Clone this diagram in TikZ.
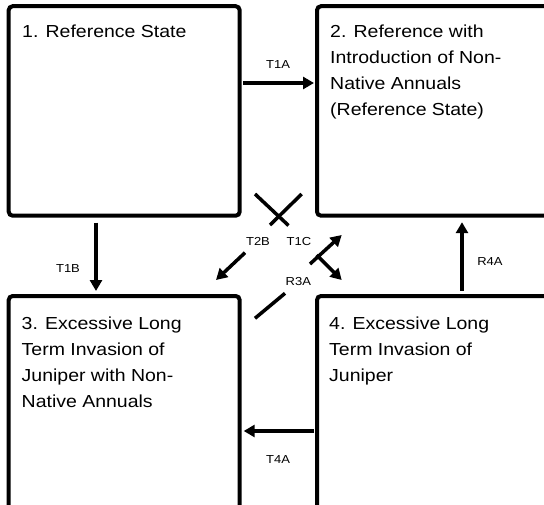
\documentclass[tikz,border=0pt]{standalone}
\usepackage{fontspec}
\setmainfont{Liberation Sans}[FakeStretch=1.12]
\usetikzlibrary{arrows.meta,calc}
\newcommand{\boxlines}[1]{\begin{tabular}[t]{@{}l@{}}#1\end{tabular}}
\tikzset{
  statebox/.style={draw=black, line width=4pt, rounded corners=4pt, inner sep=0pt, outer sep=0pt, anchor=north west},
  statetext/.style={anchor=base west, inner sep=0pt, font=\fontsize{17.4}{26}\selectfont},
  arr/.style={line width=3.5pt, -{Triangle[length=11pt,width=12pt]}},
  seg/.style={line width=3.5pt},
  lbl/.style={inner sep=0pt, font=\fontsize{11.6}{13}\selectfont}
}
\begin{document}
\begin{tikzpicture}[x=1pt,y=-1pt]
\useasboundingbox (0,0) rectangle (544,504);
\clip (0,0) rectangle (544,504);
% boxes
\node[statebox, minimum width=231pt, minimum height=209.5pt] (s1) at (8.7,6.2) {};
\node[statebox, minimum width=250pt, minimum height=209.5pt] (s2) at (317,6.2) {};
\node[statebox, minimum width=231pt, minimum height=230pt] (s3) at (8.7,296) {};
\node[statebox, minimum width=250pt, minimum height=230pt] (s4) at (317,296) {};
% texts
\node[statetext] (t1) at (22,37.3) {\boxlines{1. Reference State}};
\node[statetext] (t2) at (330,37.3) {\boxlines{2. Reference with\\Introduction of Non-\\Native Annuals\\(Reference State)}};
\node[statetext] (t3) at (21.5,329.3) {\boxlines{3. Excessive Long\\Term Invasion of\\Juniper with Non-\\Native Annuals}};
\node[statetext] (t4) at (329,329.3) {\boxlines{4. Excessive Long\\Term Invasion of\\Juniper}};
% straight arrows
\draw[arr] (s1.east |- 0,83) ++(3.5,0) -- ([xshift=-3pt]s2.west |- 0,83);
\draw[arr] ([xshift=-3.5pt]s4.west |- 0,431) -- ([xshift=4pt]s3.east |- 0,431);
\draw[arr] ([yshift=-7pt]s1.south -| 96,0) -- ([yshift=5pt]s3.north -| 96,0);
\draw[arr] ([yshift=5.5pt]s4.north -| 462,0) -- ([yshift=-6.5pt]s2.south -| 462,0);
% diagonal connectors
\coordinate (b1) at (301.7,194);
\coordinate (b2) at (270,225);
\coordinate (b3) at (245,252.7);
\coordinate (b4) at (216,280);
\draw[seg] (b1) -- (b2);
\draw[arr] (b3) -- (b4);
\coordinate (c1) at (255,194);
\coordinate (c2) at (288.5,225.5);
\coordinate (c3) at (316.7,255);
\coordinate (c4) at (341.7,280);
\draw[seg] (c1) -- (c2);
\draw[arr] (c3) -- (c4);
\coordinate (d1) at (255,318.3);
\coordinate (d2) at (285,293.3);
\coordinate (d3) at (310,264);
\coordinate (d4) at (341.7,235);
\draw[seg] (d1) -- (d2);
\draw[arr] (d3) -- (d4);
% labels
\node[lbl] (l1) at (278,65) {T1A};
\node[lbl] (l2) at (278,460) {T4A};
\node[lbl] (l3) at (490,262) {R4A};
\node[lbl] (l4) at (68,268.5) {T1B};
\node[lbl] (l5) at (258,241.5) {T2B};
\node[lbl] (l6) at (299,241.5) {T1C};
\node[lbl] (l7) at (298.3,281.4) {R3A};
\end{tikzpicture}
\end{document}
